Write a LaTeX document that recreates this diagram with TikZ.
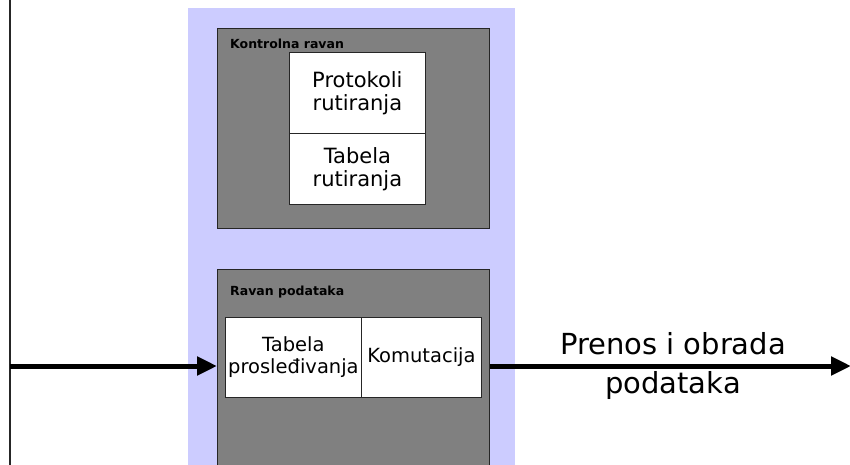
\documentclass[tikz,border=0pt]{standalone}
\usepackage{fontspec}
\setmainfont{DejaVu Sans}
\usetikzlibrary{arrows.meta}
\definecolor{planebg}{HTML}{CCCCFF}
\definecolor{planegray}{HTML}{808080}
\definecolor{edgedark}{HTML}{262626}
\tikzset{
  plane/.style={draw=edgedark, line width=0.9pt, fill=planegray, anchor=north west,
    inner sep=0pt, minimum width=272pt},
  cell/.style={draw=edgedark, line width=0.8pt, fill=white, anchor=north west,
    inner sep=0pt, align=center, font=\fontsize{21}{23}\selectfont},
  smallcell/.style={cell, font=\fontsize{19.5}{22}\selectfont},
  planelabel/.style={anchor=west, inner sep=0pt, font=\bfseries\fontsize{12.5}{14}\selectfont},
  flow/.style={line width=5pt, -{Triangle[length=20pt,width=18pt]}},
}
\begin{document}
\begin{tikzpicture}[x=1pt,y=-1pt]
  \useasboundingbox (0,0) rectangle (850,465);
  \clip (0,0) rectangle (850,465);

  % input line on the left
  \draw[edgedark, line width=2pt] (10,0) -- (10,465);

  % router background
  \fill[planebg] (188,8) rectangle (515,470);

  % control plane
  \node[plane, minimum height=200pt] (cp) at (217,28) {};
  \node[planelabel] (cplabel) at (230,44) {Kontrolna ravan};
  \node[cell, minimum width=136pt, minimum height=81pt] (proto) at (289,52)
    {Protokoli\\rutiranja};
  \node[cell, minimum width=136pt, minimum height=71pt] (rtab) at (289,133)
    {Tabela\\rutiranja};

  % data plane
  \node[plane, minimum height=205pt] (dp) at (217,269) {};
  \node[planelabel] (dplabel) at (230,292) {Ravan podataka};
  \node[smallcell, minimum width=136pt, minimum height=80pt] (ftab) at (225,317)
    {Tabela\\prosleđivanja};
  \node[smallcell, minimum width=120pt, minimum height=80pt] (sw) at (361,317)
    {Komutacija};

  % data flow
  \coordinate (in) at (10,366);
  \coordinate (out) at (851,366);
  \draw[flow] (in) -- (in -| dp.west);
  \draw[flow] (dp.east |- out) -- (out);
  \node[align=center, font=\fontsize{29}{39}\selectfont] (flowlabel) at (673,366)
    {Prenos i obrada\\podataka};
\end{tikzpicture}
\end{document}
